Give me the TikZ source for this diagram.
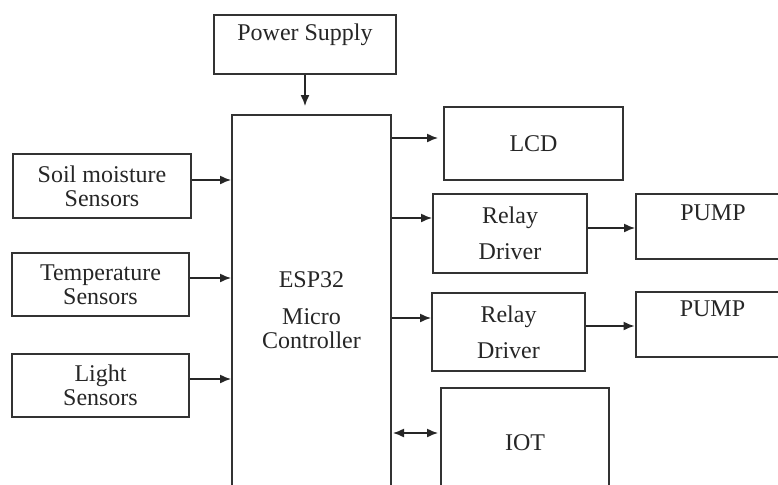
\documentclass[tikz,border=0pt]{standalone}
\usepackage{fontspec}
\setmainfont{Liberation Serif}
\usetikzlibrary{arrows.meta}
\tikzset{
  blk/.style={draw=black!80, line width=1pt, inner sep=0pt, align=center,
    text=black!85, font=\fontsize{12}{12}\selectfont},
  lbl/.style={anchor=center, inner sep=0pt, text=black!85, font=\fontsize{12}{12}\selectfont},
  link/.style={-{Latex[length=5.5pt,width=4.5pt]}, line width=0.7pt, draw=black!85},
  linkboth/.style={{Latex[length=5.5pt,width=4.5pt]}-{Latex[length=5.5pt,width=4.5pt]}, line width=0.7pt, draw=black!85},
}
\begin{document}
\begin{tikzpicture}[x=0.5pt,y=-0.5pt]
    \useasboundingbox (0,0) rectangle (778,484);
    \clip (0,0) rectangle (778,484);
    % blocks
    \node[blk, minimum width=91pt, minimum height=29.5pt,
      label={[lbl,yshift=-10.5pt]north:Power Supply}] (power) at (305,44.5) {};
    \node[blk, minimum width=79.5pt, minimum height=195pt] (esp) at (311.5,310) {ESP32\\[6.5pt]Micro\\Controller};
    \node[blk, minimum width=89pt, minimum height=32pt] (soil) at (102,186) {Soil moisture\\Sensors};
    \node[blk, minimum width=88.5pt, minimum height=31.5pt] (temp) at (100.5,284.5) {Temperature\\Sensors};
    \node[blk, minimum width=88.5pt, minimum height=31.5pt] (light) at (100.5,385.5) {Light\\Sensors};
    \node[blk, minimum width=89.5pt, minimum height=36.5pt] (lcd) at (533.5,143.5) {LCD};
    \node[blk, minimum width=77pt, minimum height=39.5pt] (relayA) at (510,233.5) {Relay\\[6pt]Driver};
    \node[blk, minimum width=76.5pt, minimum height=39pt] (relayB) at (508.5,332) {Relay\\[6pt]Driver};
    \node[blk, minimum width=77pt, minimum height=32.5pt,
      label={[lbl,yshift=-10pt]north:PUMP}] (pumpA) at (713,226.5) {};
    \node[blk, minimum width=77pt, minimum height=32.5pt,
      label={[lbl,yshift=-9pt]north:PUMP}] (pumpB) at (712.5,324.5) {};
    \node[blk, minimum width=84pt, minimum height=55pt] (iot) at (525,443) {IOT};
    % connectors
    \draw[link, shorten >=4pt] (power.south) -- (power.south |- esp.north);
    \draw[link] ([yshift=3pt]soil.east) -- ([yshift=3pt]soil.east -| esp.west);
    \draw[link] ([yshift=3.25pt]temp.east) -- ([yshift=3.25pt]temp.east -| esp.west);
    \draw[link] ([yshift=3.25pt]light.east) -- ([yshift=3.25pt]light.east -| esp.west);
    \draw[link] ([yshift=2.75pt]lcd.west -| esp.east) -- ([yshift=2.75pt,xshift=-2.5pt]lcd.west);
    \draw[link] ([yshift=7.75pt]relayA.west -| esp.east) -- ([yshift=7.75pt]relayA.west);
    \draw[link] ([yshift=7pt]relayB.west -| esp.east) -- ([yshift=7pt]relayB.west);
    \draw[link] ([yshift=2.75pt]relayA.east) -- ([yshift=2.75pt]relayA.east -| pumpA.west);
    \draw[link] ([yshift=3pt]relayB.east) -- ([yshift=3pt]relayB.east -| pumpB.west);
    \draw[linkboth] ([yshift=5pt,xshift=0.5pt]iot.west -| esp.east) -- ([yshift=5pt,xshift=-1pt]iot.west);
\end{tikzpicture}
\end{document}
